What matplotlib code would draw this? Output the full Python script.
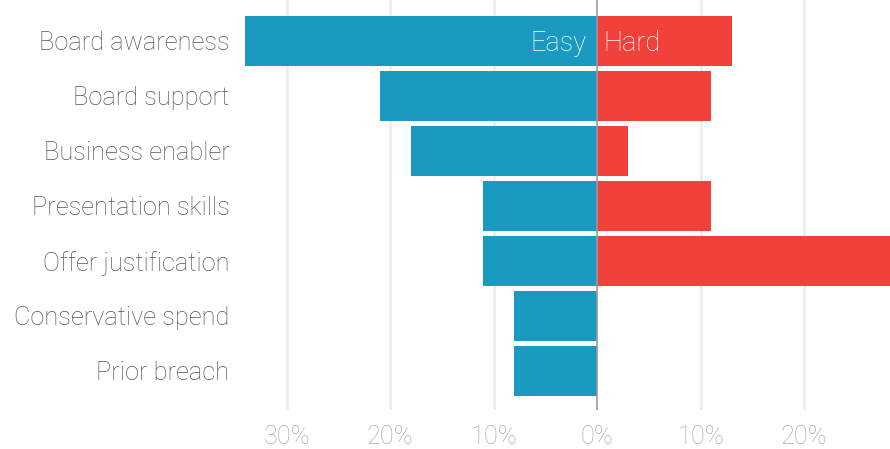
import matplotlib.pyplot as plt
from matplotlib.ticker import FuncFormatter

categories = ["Board awareness", "Board support", "Business enabler",
              "Presentation skills", "Offer justification",
              "Conservative spend", "Prior breach"]
easy = [34, 21, 18, 11, 11, 8, 8]
hard = [13, 11, 3, 11, 30, 0, 0]

BLUE = "#1a9ac0"
RED = "#f2413a"

plt.rcParams['font.family'] = ['Roboto', 'DejaVu Sans']

fig = plt.figure(figsize=(8.9, 4.49), dpi=100)
ax = fig.add_axes([235 / 890, 39 / 449, 655 / 890, 410 / 449])

y = list(range(len(categories)))
ax.barh(y, [-v for v in easy], height=0.91, color=BLUE, zorder=2)
ax.barh(y, hard, height=0.91, color=RED, zorder=2)

ax.set_xlim(-35, 28.3)
ax.set_ylim(6.71, -0.745)

ax.set_xticks([-30, -20, -10, 0, 10, 20])
ax.xaxis.set_major_formatter(FuncFormatter(lambda v, p: f"{abs(int(v))}%"))
for g in [-30, -20, -10, 10, 20]:
    ax.axvline(g, color="#eeeeee", lw=2, zorder=0)
ax.axvline(0, color="#999999", lw=1.2, zorder=3)

ax.set_yticks(y)
ax.set_yticklabels(categories)
ax.tick_params(axis='y', length=0, pad=4, labelsize=18.3, labelcolor="#555555")
ax.tick_params(axis='x', length=0, pad=11, labelsize=18.3, labelcolor="#aaaaaa")
for lab in ax.get_xticklabels() + ax.get_yticklabels():
    lab.set_fontweight('light')

for s in ax.spines.values():
    s.set_visible(False)

ax.text(-1, 0.04, "Easy", color="white", fontsize=19.5, fontweight='light',
        ha='right', va='center', zorder=4)
ax.text(0.6, 0.04, "Hard", color="white", fontsize=19.5, fontweight='light',
        ha='left', va='center', zorder=4)

fig.savefig("out.png", dpi=100)
